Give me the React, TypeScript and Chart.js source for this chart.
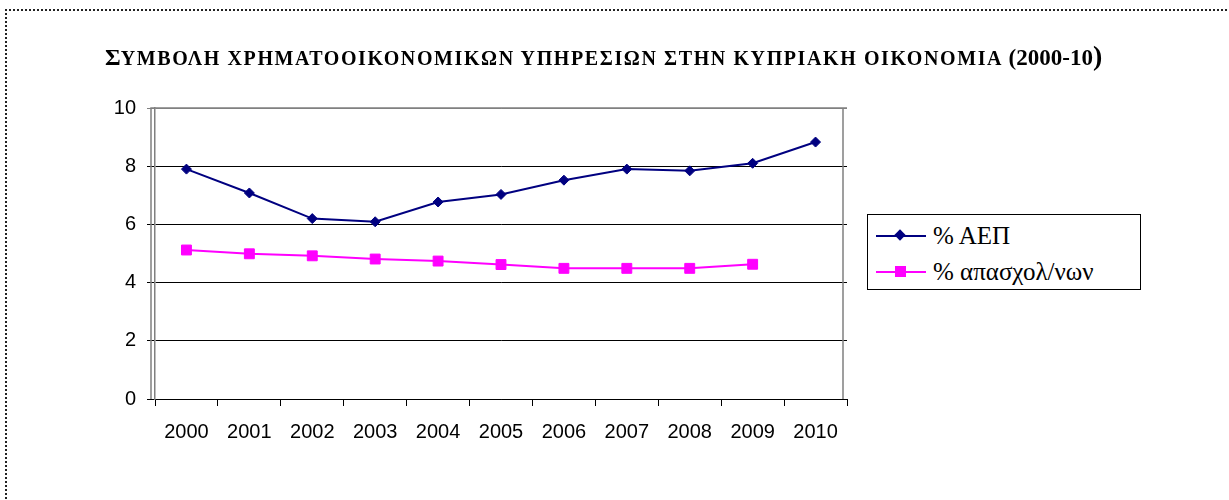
import React, { useEffect, useRef } from 'react';
import { Chart, registerables } from 'chart.js';

Chart.register(...registerables);

const years = ['2000', '2001', '2002', '2003', '2004', '2005', '2006', '2007', '2008', '2009', '2010'];
const gdpShare = [7.9, 7.08, 6.2, 6.09, 6.77, 7.03, 7.52, 7.9, 7.84, 8.1, 8.83];
const employmentShare = [5.12, 4.99, 4.92, 4.81, 4.74, 4.62, 4.49, 4.49, 4.49, 4.63, null];
const seriesLabels = ['% ΑΕΠ', '% απασχολ/νων'];
const seriesColors = ['#000080', '#FF00FF'];
const yMin = 0;
const yMax = 10;
const yStep = 2;
const titleFirst = 'Σ';
const titleSmallCaps = 'ΥΜΒΟΛΗ ΧΡΗΜΑΤΟΟΙΚΟΝΟΜΙΚΩΝ ΥΠΗΡΕΣΙΩΝ ΣΤΗΝ ΚΥΠΡΙΑΚΗ ΟΙΚΟΝΟΜΙΑ ';
const titlePeriod = '(2000-10';
const titleLast = ')';

const serifStack = '"Liberation Serif", "Liberation Sans", serif';

const plotFrame = {
  id: 'plotFrame',
  beforeDatasetsDraw(chart: any) {
    const { ctx, chartArea: a } = chart;
    ctx.save();
    ctx.strokeStyle = '#808080';
    ctx.lineWidth = 1.5;
    ctx.beginPath();
    ctx.moveTo(a.left - 4, a.bottom);
    ctx.lineTo(a.left - 4, a.top);
    ctx.lineTo(a.right, a.top);
    ctx.moveTo(a.right - 4, a.top);
    ctx.lineTo(a.right - 4, a.bottom);
    ctx.stroke();
    ctx.restore();
  },
};

function LegendMarker({ color, shape }: { color: string; shape: string }) {
  return (
    <div style={{ position: 'relative', width: 50, height: 14, marginRight: 7, flex: '0 0 auto' }}>
      <div style={{ position: 'absolute', left: 0, top: 6, width: 50, height: 2, background: color }} />
      {shape === 'diamond' ? (
        <div style={{ position: 'absolute', left: 20, top: 2, width: 8, height: 8, background: color, transform: 'rotate(45deg)' }} />
      ) : (
        <div style={{ position: 'absolute', left: 19, top: 1, width: 11, height: 11, background: color }} />
      )}
    </div>
  );
}

export default function App() {
  const canvasRef = useRef<HTMLCanvasElement | null>(null);

  useEffect(() => {
    const canvas = canvasRef.current;
    if (!canvas) return;
    const chart = new Chart(canvas, {
      type: 'line',
      data: {
        labels: years,
        datasets: [
          {
            label: seriesLabels[0],
            data: gdpShare,
            borderColor: seriesColors[0],
            backgroundColor: seriesColors[0],
            pointBorderColor: seriesColors[0],
            pointBackgroundColor: seriesColors[0],
            borderWidth: 2,
            pointStyle: 'rectRot',
            pointRadius: 5,
            pointBorderWidth: 1,
            tension: 0,
          },
          {
            label: seriesLabels[1],
            data: employmentShare,
            borderColor: seriesColors[1],
            backgroundColor: seriesColors[1],
            pointBorderColor: seriesColors[1],
            pointBackgroundColor: seriesColors[1],
            borderWidth: 2,
            pointStyle: 'rect',
            pointRadius: 7,
            pointBorderWidth: 1,
            tension: 0,
          },
        ],
      },
      options: {
        responsive: false,
        animation: false,
        layout: { padding: { left: 0, top: 108, right: 382, bottom: 0 } },
        plugins: {
          legend: { display: false },
          title: { display: false },
          tooltip: { enabled: false },
        },
        scales: {
          x: {
            offset: true,
            grid: { offset: true, drawOnChartArea: false, drawTicks: true, tickLength: 7, color: '#000', lineWidth: 1 },
            border: { color: '#000', width: 1 },
            ticks: {
              font: { family: 'Liberation Sans', size: 20 },
              color: '#000',
              padding: 14,
              maxRotation: 0,
              autoSkip: false,
            },
            afterFit: (s: any) => {
              s.height = 101;
            },
          },
          y: {
            min: yMin,
            max: yMax,
            ticks: {
              stepSize: yStep,
              font: { family: 'Liberation Sans', size: 20 },
              color: '#000',
              padding: 11,
            },
            grid: {
              color: (ctx: any) => (ctx.tick && ctx.tick.value === yMax ? '#808080' : '#000'),
              tickLength: 8,
              lineWidth: 1,
            },
            border: { color: '#808080', width: 1.5 },
            afterFit: (s: any) => {
              s.width = 155;
            },
          },
        },
      },
      plugins: [plotFrame],
    } as any);
    return () => chart.destroy();
  }, []);

  return (
    <div style={{ position: 'absolute', left: 0, top: 0, width: 1229, height: 500, overflow: 'hidden', background: '#fff' }}>
      <div
        style={{
          position: 'absolute',
          left: 5,
          top: 9,
          width: 1400,
          height: 700,
          borderLeft: '2px dotted #222',
          borderTop: '2px dotted #222',
        }}
      />
      <canvas ref={canvasRef} width={1229} height={500} style={{ position: 'absolute', left: 0, top: 0 }} />
      <div
        style={{
          position: 'absolute',
          left: 105,
          top: 41,
          fontFamily: serifStack,
          fontWeight: 'bold',
          whiteSpace: 'nowrap',
          fontSize: 20,
          lineHeight: '30px',
          color: '#000',
        }}
      >
        <span style={{ fontSize: 24 }}>{titleFirst}</span>
        <span style={{ fontSize: 20, letterSpacing: 1.6 }}>{titleSmallCaps}</span>
        <span style={{ fontSize: 23 }}>{titlePeriod}</span>
        <span style={{ fontSize: 28 }}>{titleLast}</span>
      </div>
      <div
        style={{
          position: 'absolute',
          left: 867,
          top: 214,
          width: 274,
          height: 76,
          boxSizing: 'border-box',
          border: '1px solid #000',
          background: '#fff',
          fontFamily: serifStack,
          fontSize: 25,
          color: '#000',
          paddingLeft: 8,
        }}
      >
        <div style={{ display: 'flex', alignItems: 'center', height: 36, marginTop: 3 }}>
          <LegendMarker color={seriesColors[0]} shape="diamond" />
          <span style={{ whiteSpace: 'nowrap' }}>{seriesLabels[0]}</span>
        </div>
        <div style={{ display: 'flex', alignItems: 'center', height: 36 }}>
          <LegendMarker color={seriesColors[1]} shape="square" />
          <span style={{ whiteSpace: 'nowrap' }}>{seriesLabels[1]}</span>
        </div>
      </div>
    </div>
  );
}
